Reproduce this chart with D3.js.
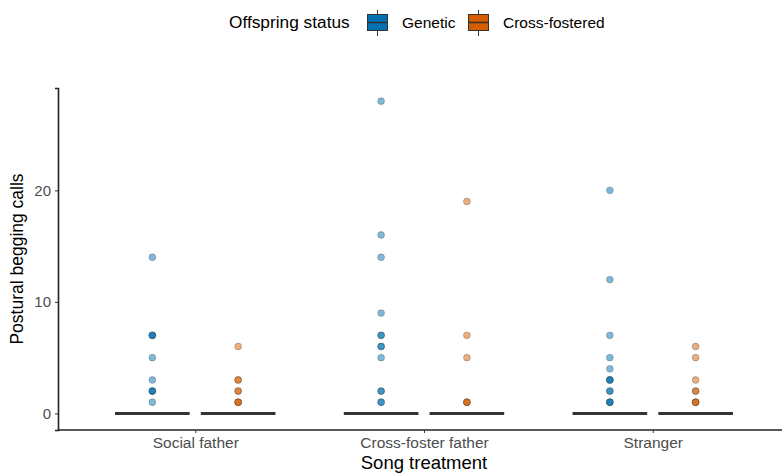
<!DOCTYPE html>
<html>
<head>
<meta charset="utf-8">
<script src="https://cdn.jsdelivr.net/npm/d3@7"></script>
<style>
  body { margin: 0; background: #fff; }
  svg { font-family: "Liberation Sans", Arial, sans-serif; }
</style>
</head>
<body>
<svg id="chart" width="782" height="473"></svg>
<script>
// *************** DATA ***************
const treatments = ["Social father", "Cross-foster father", "Stranger"];
const statuses = ["Genetic", "Cross-fostered"];

// outlier values above the (zero) median, repeats overlap
const socialGenetic = [14, 7, 7, 7, 5, 3, 2, 2, 2, 1];
const socialCross = [6, 3, 3, 2, 2, 1, 1, 1];
const crossGenetic = [28, 16, 14, 9, 7, 7, 6, 6, 5, 2, 2, 1, 1];
const crossCross = [19, 7, 5, 1, 1, 1];
const strangerGenetic = [20, 12, 7, 5, 4, 3, 3, 3, 2, 2, 1, 1, 1];
const strangerCross = [6, 5, 3, 2, 2, 1, 1, 1];

const medians = [[0, 0], [0, 0], [0, 0]];

const yTicks = [0, 10, 20];

const groups = [
  [socialGenetic, socialCross],
  [crossGenetic, crossCross],
  [strangerGenetic, strangerCross]
];

// *************** CONSTANTS ***************
const svg = d3.select("#chart");
const colors = { "Genetic": "#0072B2", "Cross-fostered": "#D55E00" };

const panelLeft = 58, panelBottom = 430, panelTop = 88;

const x = d3.scalePoint()
            .domain(treatments)
            .range([panelLeft, 790])
            .padding(0.6);

const step = x.step();
const dodge = d3.scaleBand()
                .domain(statuses)
                .range([-step * 0.375, step * 0.375]);

const y = d3.scaleLinear()
            .domain([-1.49, 29.18])
            .range([panelBottom, panelTop]);

// *************** MARKS ***************
const plot = svg.append("g");

treatments.forEach((t, i) => {
  statuses.forEach((s, j) => {
    const cx = x(t) + dodge(s) + dodge.bandwidth() / 2;
    const bw = dodge.bandwidth() * 0.87;

    plot.selectAll(null)
        .data(groups[i][j])
        .join("circle")
        .attr("cx", cx)
        .attr("cy", d => y(d))
        .attr("r", 3.4)
        .attr("fill", colors[s])
        .attr("fill-opacity", 0.5)
        .attr("stroke", "#333")
        .attr("stroke-opacity", 0.35)
        .attr("stroke-width", 0.8);

    plot.append("line")
        .attr("x1", cx - bw / 2)
        .attr("x2", cx + bw / 2)
        .attr("y1", y(medians[i][j]))
        .attr("y2", y(medians[i][j]))
        .attr("stroke", "#333")
        .attr("stroke-width", 3);
  });
});

// *************** AXES ***************
const yAxis = svg.append("g")
   .attr("transform", `translate(${panelLeft},0)`)
   .call(d3.axisLeft(y).tickValues(yTicks).tickSize(3).tickPadding(4));
yAxis.select(".domain").attr("stroke", "#222").attr("stroke-width", 1.6);
yAxis.selectAll(".tick line").attr("stroke", "#333");
yAxis.selectAll("text").attr("font-size", "15px").attr("fill", "#4d4d4d")
     .attr("font-family", "Liberation Sans, Arial, sans-serif");

const xAxis = svg.append("g")
   .attr("transform", `translate(0,${panelBottom})`)
   .call(d3.axisBottom(x).tickSize(3).tickPadding(4));
xAxis.select(".domain").attr("d", `M${panelLeft},0H782`)
     .attr("stroke", "#222").attr("stroke-width", 1.6);
xAxis.selectAll(".tick line").attr("stroke", "#333");
xAxis.selectAll("text").attr("font-size", "15.5px").attr("fill", "#4d4d4d")
     .attr("font-family", "Liberation Sans, Arial, sans-serif");

svg.append("text")
   .attr("x", x("Cross-foster father"))
   .attr("y", 469)
   .attr("text-anchor", "middle")
   .attr("font-size", "18.5px")
   .attr("fill", "#000")
   .text("Song treatment");

svg.append("text")
   .attr("transform", `translate(23,${(panelTop + panelBottom) / 2}) rotate(-90)`)
   .attr("text-anchor", "middle")
   .attr("font-size", "17.5px")
   .attr("fill", "#000")
   .text("Postural begging calls");

// *************** LEGEND ***************
const legend = svg.append("g");

legend.append("text")
      .attr("x", 229)
      .attr("y", 28)
      .attr("font-size", "17.3px")
      .text("Offspring status");

const keyX = [367, 468];
statuses.forEach((s, i) => {
  const k = legend.append("g").attr("transform", `translate(${keyX[i]},0)`);
  k.append("line").attr("x1", 10.5).attr("x2", 10.5).attr("y1", 10).attr("y2", 36)
   .attr("stroke", "#333").attr("stroke-width", 1);
  k.append("rect").attr("x", 0.5).attr("y", 14.5).attr("width", 20).attr("height", 16)
   .attr("fill", colors[s]).attr("stroke", "#333").attr("stroke-width", 1);
  k.append("line").attr("x1", 0.5).attr("x2", 20.5).attr("y1", 22.5).attr("y2", 22.5)
   .attr("stroke", "#333").attr("stroke-width", 1.5);
  legend.append("text")
        .attr("x", keyX[i] + 35)
        .attr("y", 28)
        .attr("font-size", "15.5px")
        .text(s);
});
</script>
</body>
</html>
